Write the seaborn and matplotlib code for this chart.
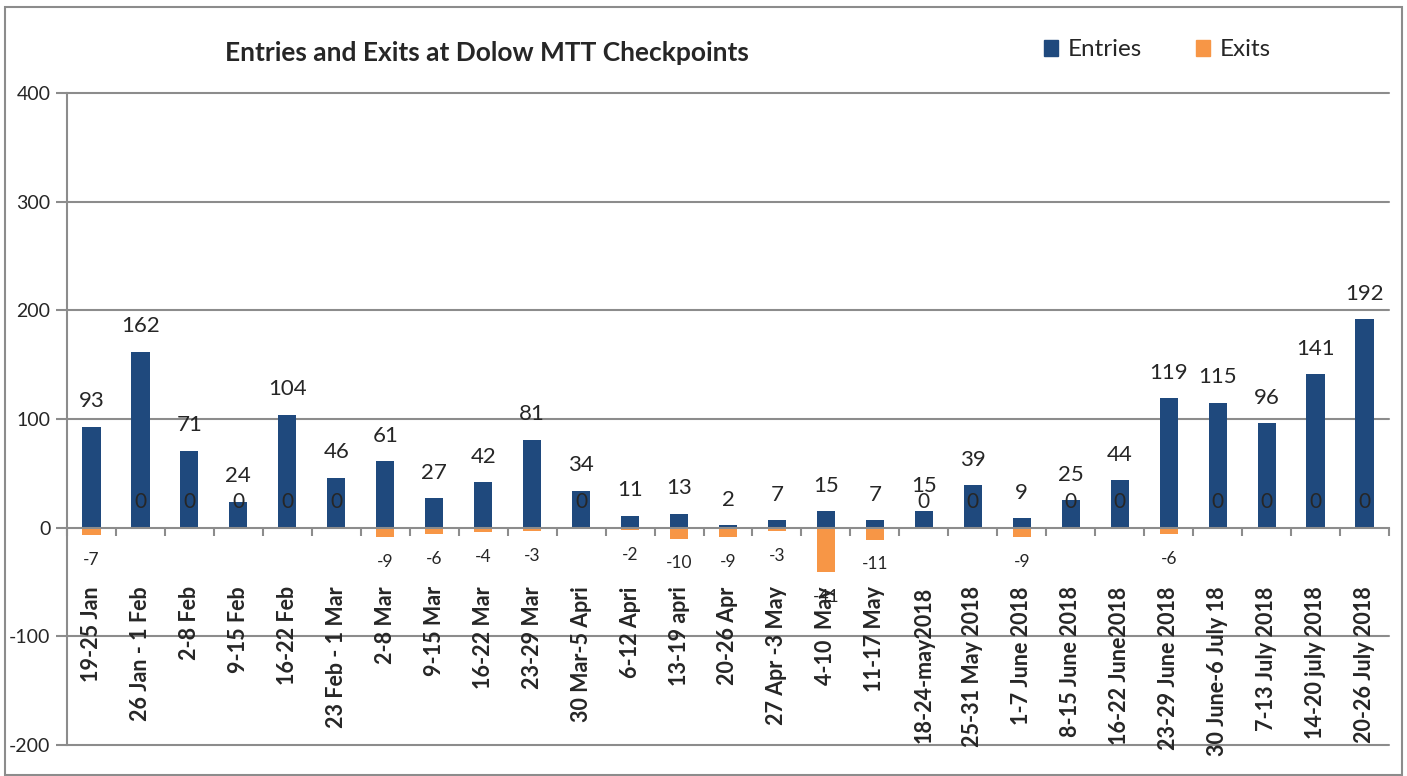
import matplotlib

matplotlib.use("Agg")
import matplotlib.pyplot as plt
import pandas as pd
import seaborn as sns
from matplotlib.patches import Patch, Rectangle

weeks = [
    "19-25 Jan", "26 Jan - 1 Feb", "2-8 Feb", "9-15 Feb", "16-22 Feb",
    "23 Feb - 1 Mar", "2-8 Mar", "9-15 Mar", "16-22 Mar", "23-29 Mar",
    "30 Mar-5 Apri", "6-12 Apri", "13-19 apri", "20-26 Apr", "27 Apr -3 May",
    "4-10  May", "11-17 May", "18-24-may2018", "25-31 May 2018", "1-7 June 2018",
    "8-15 June 2018", "16-22 June2018", "23-29 June 2018", "30 June-6 July 18",
    "7-13 July 2018", "14-20 july 2018", "20-26 July 2018",
]
entries = [93, 162, 71, 24, 104, 46, 61, 27, 42, 81, 34, 11, 13, 2, 7,
           15, 7, 15, 39, 9, 25, 44, 119, 115, 96, 141, 192]
exits = [-7, 0, 0, 0, 0, 0, -9, -6, -4, -3, 0, -2, -10, -9, -3,
         -41, -11, 0, 0, -9, 0, 0, -6, 0, 0, 0, 0]

y_ticks = [-200, -100, 0, 100, 200, 300, 400]
title = "Entries and Exits at Dolow MTT Checkpoints"

blue = "#1F497D"
orange = "#F79646"
grey = "#8C8C8C"

df = pd.DataFrame({"week": weeks, "entries": entries, "exits": exits})

sns.set_style("white")
plt.rcParams["font.family"] = ["Lato", "DejaVu Sans"]

fig = plt.figure(figsize=(14.07, 7.76), dpi=100)
ax = fig.add_axes([67 / 1407, 1 - 745 / 776, (1389 - 67) / 1407, (745 - 93) / 776])

sns.barplot(data=df, x="week", y="entries", order=weeks, color=blue,
            saturation=1, width=0.37, linewidth=0, ax=ax)
sns.barplot(data=df, x="week", y="exits", order=weeks, color=orange,
            saturation=1, width=0.37, linewidth=0, ax=ax)

ax.set_xlabel("")
ax.set_ylabel("")
ax.set_xlim(-0.5, len(weeks) - 0.5)
ax.set_ylim(-200, 400)

# value labels
for i, (en, ex) in enumerate(zip(entries, exits)):
    ax.annotate(str(en), (i, en), xytext=(0, 11), textcoords="offset points",
                ha="center", va="bottom", fontsize=16)
    if ex < 0:
        ax.annotate(str(ex), (i, ex), xytext=(0, -12), textcoords="offset points",
                    ha="center", va="top", fontsize=12.5)
    else:
        ax.annotate(str(ex), (i, ex), xytext=(0, 11), textcoords="offset points",
                    ha="center", va="bottom", fontsize=15)

# category labels hanging below the zero line
for i, w in enumerate(weeks):
    ax.text(i, -54, w, rotation=90, ha="center", va="top",
            fontsize=15.5, fontweight="bold")

# x axis at zero with ticks between categories
ax.spines["bottom"].set_position(("data", 0))
ax.spines["bottom"].set_color(grey)
ax.spines["bottom"].set_linewidth(1.5)
ax.set_xticks([])
ax.set_xticks([i - 0.5 for i in range(len(weeks) + 1)], minor=True)
ax.tick_params(axis="x", which="minor", direction="out", length=6,
               width=1.5, color=grey, bottom=True)

ax.set_yticks(y_ticks)
ax.set_yticklabels([str(v) for v in y_ticks], fontsize=14)
ax.tick_params(axis="y", direction="out", length=8, width=1.5, color=grey,
               left=True, pad=4)
ax.spines["left"].set_color(grey)
ax.spines["left"].set_linewidth(1.5)
ax.spines["top"].set_visible(False)
ax.spines["right"].set_visible(False)
for v in y_ticks:
    if v != 0:
        ax.axhline(v, color=grey, linewidth=1.5, zorder=0, clip_on=False)

fig.text(487 / 1407, 1 - 53 / 776, title, ha="center", va="center",
         fontsize=19, fontweight="bold")

handles = [Patch(color=blue, label="Entries"), Patch(color=orange, label="Exits")]
fig.legend(handles=handles, loc="center left",
           bbox_to_anchor=(1022 / 1407, 1 - 50 / 776), ncol=2, frameon=False,
           fontsize=17.5, handlelength=0.6, handleheight=0.6,
           handletextpad=0.4, columnspacing=2.2)

fig.patches.append(Rectangle((5 / 1407, 1 / 776), 1397 / 1407, 768 / 776,
                             transform=fig.transFigure, fill=False,
                             edgecolor=grey, linewidth=1.5))

fig.savefig("out.png", dpi=100)
plt.close(fig)
